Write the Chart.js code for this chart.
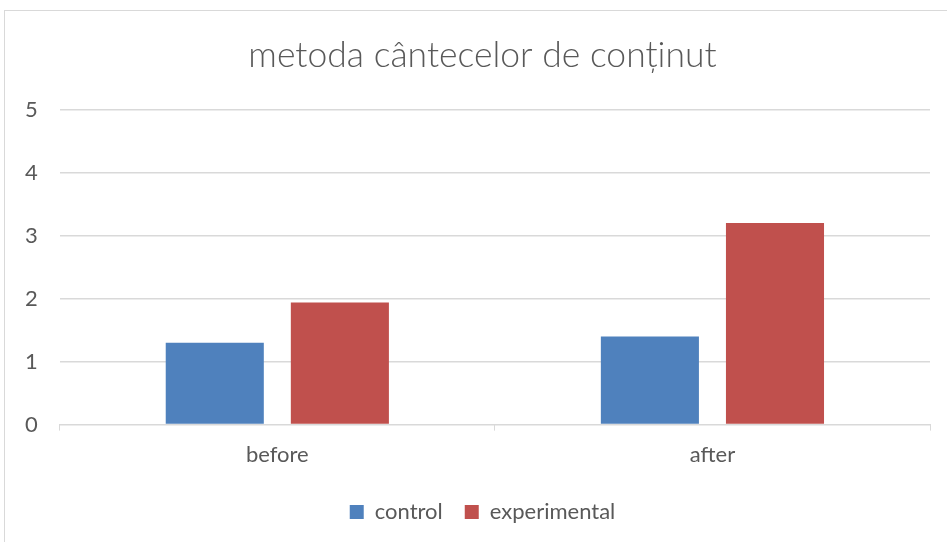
<!DOCTYPE html>
<html>
<head>
<meta charset="utf-8">
<script src="https://cdn.jsdelivr.net/npm/chart.js@4"></script>
<style>
  html, body { margin: 0; padding: 0; background: #fff; overflow: hidden; }
  #frame { position: absolute; left: 4px; top: 10px; width: 1000px; height: 1000px; border: 1px solid #d9d9d9; }
  #wrap { position: absolute; left: 0; top: 0; width: 947px; height: 542px; }
</style>
</head>
<body>
<div id="frame"></div>
<div id="wrap"><canvas id="chart"></canvas></div>
<script>
// date
const categories = ["before", "after"];
const controlValues = [1.3, 1.4];
const experimentalValues = [1.94, 3.2];
const yTicks = [0, 1, 2, 3, 4, 5];

const textColor = "#595959";
const gridColor = "#d9d9d9";
const fontFamily = "Lato, 'Open Sans', sans-serif";

// in original, titlul si legenda sunt centrate putin mai la dreapta
const shiftCenter = {
  id: "shiftCenter",
  afterLayout(chart) {
    [chart.titleBlock, chart.legend].forEach(b => {
      if (!b) return;
      b.left += 16;
      b.right += 16;
    });
  }
};

const ctx = document.getElementById("chart").getContext("2d");

new Chart(ctx, {
  type: "bar",
  data: {
    labels: categories,
    datasets: [
      {
        label: "control",
        data: controlValues,
        backgroundColor: "#4f81bd"
      },
      {
        label: "experimental",
        data: experimentalValues,
        backgroundColor: "#c0504d"
      }
    ]
  },
  plugins: [shiftCenter],
  options: {
    responsive: true,
    maintainAspectRatio: false,
    animation: false,
    categoryPercentage: 0.575,
    barPercentage: 0.784,
    layout: {
      padding: { left: 3, right: 17, top: 18, bottom: 9 }
    },
    plugins: {
      title: {
        display: true,
        text: "metoda cântecelor de conținut",
        color: textColor,
        font: { family: fontFamily, size: 35.5, weight: "300" },
        padding: { top: 16, bottom: 33 }
      },
      legend: {
        position: "bottom",
        labels: {
          color: textColor,
          font: { family: fontFamily, size: 22 },
          boxWidth: 14,
          boxHeight: 14,
          padding: 22
        }
      },
      tooltip: { enabled: false }
    },
    scales: {
      x: {
        grid: {
          display: true,
          drawOnChartArea: false,
          drawTicks: true,
          tickLength: 6,
          color: gridColor,
          offset: true
        },
        border: { display: true, color: gridColor, width: 1 },
        ticks: {
          color: textColor,
          font: { family: fontFamily, size: 22 },
          padding: 11
        }
      },
      y: {
        min: 0,
        max: 5,
        afterBuildTicks: axis => {
          axis.ticks = yTicks.map(v => ({ value: v }));
        },
        grid: {
          color: gridColor,
          lineWidth: 1.5,
          drawTicks: false
        },
        border: { display: false },
        ticks: {
          color: textColor,
          font: { family: fontFamily, size: 22 },
          padding: 22
        }
      }
    }
  }
});
</script>
</body>
</html>
